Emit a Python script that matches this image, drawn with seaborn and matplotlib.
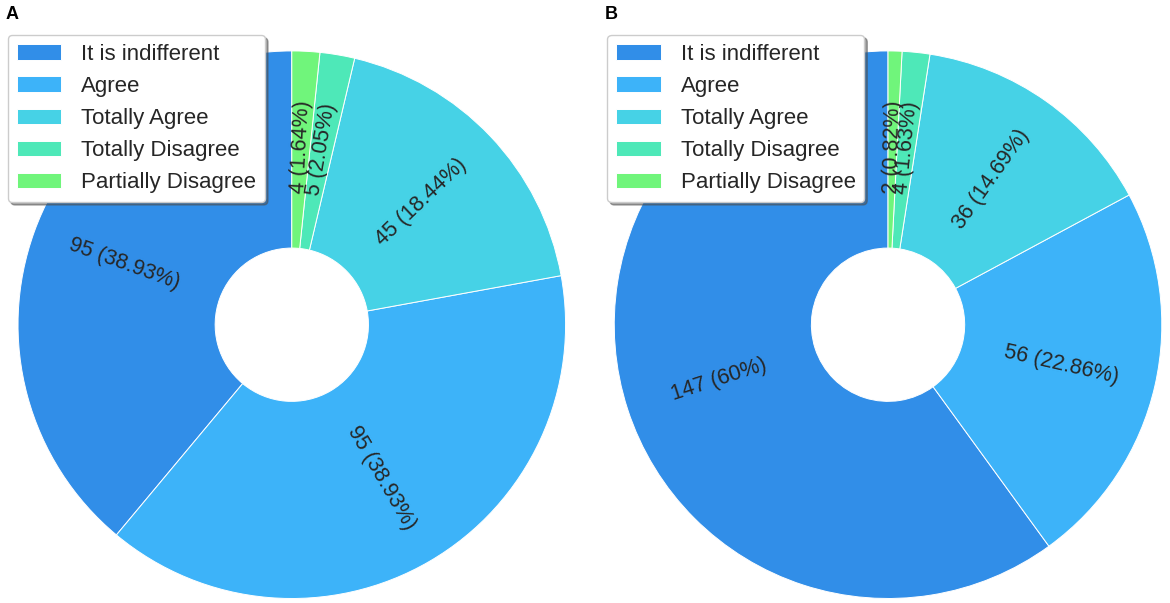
import matplotlib
matplotlib.use("Agg")
import matplotlib.pyplot as plt
import seaborn as sns
import numpy as np

# data
categories = ["It is indifferent", "Agree", "Totally Agree", "Totally Disagree", "Partially Disagree"]
counts_a = [95, 95, 45, 5, 4]
counts_b = [147, 56, 36, 4, 2]
panel_titles = ["A", "B"]
colors = ["#318ee8", "#3db3f9", "#46d2e6", "#4ee8b8", "#70f57b"]

sns.set_theme(style="white")
plt.rcParams["font.family"] = ["Liberation Sans", "DejaVu Sans"]

fig = plt.figure(figsize=(11.7, 6.03), dpi=100)
palette = sns.color_palette(colors)


def fmt_label(v, total):
    pct = round(v / total * 100, 2)
    return f"{v} ({pct:g}%)"


def draw_donut(ax, counts):
    total = sum(counts)
    wedges, _ = ax.pie(counts, colors=palette, startangle=90, counterclock=True,
                       wedgeprops=dict(width=0.72, edgecolor="white", linewidth=0.7))
    for w, v in zip(wedges, counts):
        mid = (w.theta1 + w.theta2) / 2
        r = 0.65
        x = r * np.cos(np.radians(mid))
        y = r * np.sin(np.radians(mid))
        rot = mid % 360
        if 90 < rot < 270:
            rot -= 180
        elif rot >= 270:
            rot -= 360
        ax.text(x, y, fmt_label(v, total), rotation=rot, ha="center", va="center",
                rotation_mode="anchor", fontsize=15.5, color="#262626")
    ax.set_xlim(-1, 1)
    ax.set_ylim(-1, 1)
    ax.set_aspect("equal")
    ax.axis("off")
    return wedges


ax_a = fig.add_axes([0.0154, 0.007, 0.468, 0.909])
ax_b = fig.add_axes([0.525, 0.007, 0.468, 0.909])

for ax, counts, title, lx in zip([ax_a, ax_b], [counts_a, counts_b], panel_titles, [0.0068, 0.519]):
    wedges = draw_donut(ax, counts)
    fig.legend(wedges, categories, loc="upper left", bbox_to_anchor=(lx, 0.942),
               borderaxespad=0, fontsize=16, frameon=True, framealpha=1,
               edgecolor="0.8", shadow=True,
               handlelength=2.0, handleheight=0.7, handletextpad=0.9,
               labelspacing=0.5, borderpad=0.4)
    fig.text(lx - 0.002, 0.99, title, fontsize=13, fontweight="bold",
             ha="left", va="top", color="black")

fig.savefig("out.png", dpi=100, facecolor="white")
